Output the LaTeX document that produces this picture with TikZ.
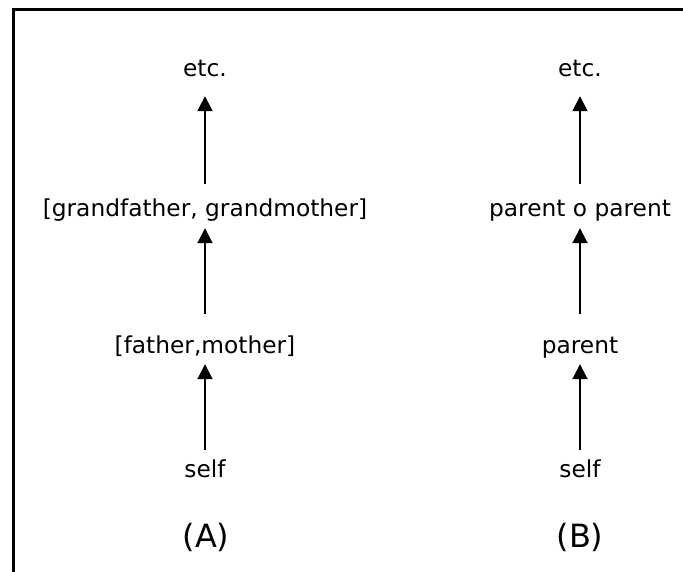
\documentclass[tikz,border=0pt]{standalone}
\usepackage{fontspec}
\setmainfont{DejaVu Sans}
\usetikzlibrary{arrows.meta}
\begin{document}
\begin{tikzpicture}[x=1pt,y=-1pt,
  lbl/.style={font=\fontsize{23.3}{27}\selectfont, anchor=base, inner sep=0pt, text height=16pt, text depth=5pt},
  captionlbl/.style={font=\fontsize{32}{38}\selectfont, anchor=base, inner sep=0pt},
  up/.style={line width=2pt, -{Triangle[width=15pt,length=15pt]}}]
\useasboundingbox (0,0) rectangle (683,571);
\begin{scope}
\clip (0,0) rectangle (683,571);
\draw[line width=3pt] (13.5,9.5) rectangle (720,620);
\end{scope}
% column A
\node[lbl] (a0) at (205,477) {self};
\node[lbl] (a1) at (205,353) {[father,mother]};
\node[lbl] (a2) at (205,216) {[grandfather, grandmother]};
\node[lbl] (a3) at (205,76) {etc.};
\node[captionlbl] (ca) at (206,547) {(A)};
% column B
\node[lbl] (b0) at (580,477) {self};
\node[lbl] (b1) at (580,353) {parent};
\node[lbl] (b2) at (580,216) {parent o parent};
\node[lbl] (b3) at (580,76) {etc.};
\node[captionlbl] (cb) at (580,547) {(B)};
% arrows
\draw[up, shorten <=11pt, shorten >=6pt] (a0.north) -- (a1.south);
\draw[up, shorten <=23pt, shorten >=7pt] (a1.north) -- (a2.south);
\draw[up, shorten <=16pt, shorten >=15pt] (a2.north) -- (a3.south);
\draw[up, shorten <=11pt, shorten >=6pt] (b0.north) -- (b1.south);
\draw[up, shorten <=23pt, shorten >=7pt] (b1.north) -- (b2.south);
\draw[up, shorten <=16pt, shorten >=15pt] (b2.north) -- (b3.south);
\end{tikzpicture}
\end{document}
